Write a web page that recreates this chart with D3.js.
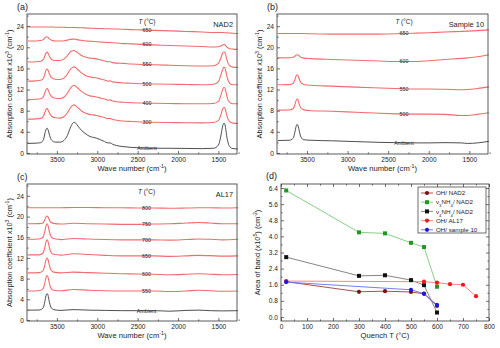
<!DOCTYPE html>
<html>
<head>
<meta charset="utf-8">
<script src="https://cdn.jsdelivr.net/npm/d3@7"></script>
<style>
  body { margin: 0; background: #fff; }
  text { font-family: "Liberation Sans", Arial, sans-serif; fill: #222; }
</style>
</head>
<body>
<div id="vis"></div>
<script>
/*
Data
*/

// (a) NAD2 spectra, common wave number grid
const waveA = [3860, 3760, 3700, 3665, 3645, 3630, 3620, 3608, 3590, 3565,
               3520, 3460, 3410, 3370, 3335, 3305, 3285, 3265, 3235, 3190,
               3140, 3090, 3050, 3010, 2960, 2910, 2870, 2840, 2810, 2760,
               2680, 2580, 2450, 2300, 2100, 1900, 1700, 1560, 1500, 1470,
               1450, 1435, 1425, 1412, 1398, 1380, 1355, 1320, 1260];
const nad2Ambient = [1.8, 1.85, 1.95, 2.6, 3.9, 4.6, 4.7, 4.3, 3.3, 2.4,
                     2.05, 2.05, 2.4, 3.3, 4.7, 5.6, 5.8, 5.6, 5.0, 4.2,
                     3.6, 3.1, 2.95, 2.8, 2.5, 2.15, 1.9, 1.9, 1.65, 1.4,
                     1.2, 1.05, 0.95, 0.9, 0.88, 0.85, 0.82, 0.88, 1.5, 3.2,
                     4.9, 5.6, 5.6, 4.8, 3.3, 1.9, 1.1, 0.82, 0.75];
const nad2T300 = [6.4, 6.45, 6.55, 7.0, 7.85, 8.3, 8.4, 8.1, 7.5, 6.95,
                  6.65, 6.6, 6.9, 7.6, 8.5, 9.0, 9.1, 8.9, 8.5, 7.9,
                  7.5, 7.25, 7.2, 7.1, 6.9, 6.7, 6.5, 6.55, 6.35, 6.2,
                  6.05, 5.95, 5.85, 5.8, 5.75, 5.72, 5.7, 5.75, 6.15, 7.2,
                  8.2, 8.6, 8.6, 8.1, 7.2, 6.35, 5.85, 5.65, 5.6];
const nad2T400 = [10.1, 10.15, 10.25, 10.7, 11.55, 12.1, 12.2, 11.9, 11.25, 10.65,
                  10.35, 10.3, 10.6, 11.3, 12.2, 12.7, 12.8, 12.6, 12.2, 11.6,
                  11.1, 10.8, 10.7, 10.6, 10.4, 10.2, 10.0, 10.05, 9.85, 9.7,
                  9.6, 9.5, 9.45, 9.4, 9.35, 9.3, 9.3, 9.35, 9.75, 10.9,
                  11.9, 12.4, 12.4, 11.9, 10.9, 10.0, 9.5, 9.3, 9.3];
const nad2T500 = [13.6, 13.65, 13.75, 14.2, 15.15, 15.8, 15.9, 15.6, 14.85, 14.25,
                  13.95, 13.9, 14.2, 14.9, 15.8, 16.2, 16.3, 16.1, 15.7, 15.1,
                  14.6, 14.4, 14.3, 14.2, 14.0, 13.8, 13.6, 13.65, 13.45, 13.35,
                  13.25, 13.2, 13.1, 13.05, 13.0, 12.95, 12.9, 13.0, 13.5, 14.7,
                  15.7, 16.2, 16.2, 15.7, 14.7, 13.75, 13.1, 12.9, 12.9];
const nad2T550 = [17.2, 17.25, 17.35, 17.75, 18.55, 19.0, 19.1, 18.85, 18.2, 17.7,
                  17.5, 17.5, 17.8, 18.4, 19.1, 19.35, 19.4, 19.2, 18.9, 18.4,
                  18.1, 17.95, 17.9, 17.8, 17.6, 17.4, 17.25, 17.25, 17.1, 17.0,
                  16.95, 16.85, 16.75, 16.7, 16.6, 16.5, 16.45, 16.5, 16.95, 17.95,
                  18.8, 19.1, 19.1, 18.7, 17.8, 16.95, 16.45, 16.25, 16.2];
const nad2T600 = [21.2, 21.2, 21.28, 21.5, 21.85, 22.0, 22.0, 21.85, 21.55, 21.35,
                  21.2, 21.2, 21.25, 21.35, 21.5, 21.55, 21.55, 21.5, 21.4, 21.3,
                  21.2, 21.15, 21.1, 21.05, 21.0, 20.95, 20.9, 20.9, 20.85, 20.8,
                  20.7, 20.65, 20.55, 20.45, 20.35, 20.25, 20.15, 20.05, 20.1, 20.25,
                  20.42, 20.5, 20.5, 20.35, 20.1, 19.85, 19.72, 19.65, 19.6];
const nad2T650 = [23.9, 23.85, 23.85, 23.85, 23.85, 23.85, 23.85, 23.85, 23.85, 23.85,
                  23.8, 23.8, 23.8, 23.75, 23.75, 23.75, 23.75, 23.75, 23.7, 23.7,
                  23.65, 23.6, 23.6, 23.55, 23.55, 23.5, 23.5, 23.5, 23.45, 23.45,
                  23.4, 23.35, 23.3, 23.2, 23.1, 23.0, 22.9, 22.8, 22.8, 22.8,
                  22.8, 22.8, 22.75, 22.75, 22.75, 22.7, 22.7, 22.65, 22.6];

// (b) Sample 10 spectra
const waveB = [3860, 3720, 3670, 3650, 3635, 3622, 3610, 3595, 3575, 3540,
               3450, 3200, 2900, 2600, 2400, 2200, 2000, 1800, 1600, 1520,
               1400, 1260];
const s10Ambient = [2.35, 2.4, 2.8, 3.9, 5.0, 5.4, 5.1, 4.1, 3.0, 2.5,
                    2.4, 2.3, 2.15, 2.0, 1.95, 1.9, 1.9, 1.95, 1.9, 1.8,
                    1.9, 2.2];
const s10T500 = [8.1, 8.12, 8.4, 9.1, 9.9, 10.2, 10.0, 9.2, 8.5, 8.15,
                 8.0, 7.9, 7.7, 7.5, 7.4, 7.35, 7.35, 7.3, 7.1, 7.1,
                 7.3, 7.6];
const s10T550 = [12.9, 12.93, 13.2, 13.85, 14.55, 14.8, 14.6, 13.95, 13.3, 12.95,
                 12.8, 12.65, 12.45, 12.3, 12.2, 12.1, 12.1, 12.05, 11.95, 12.0,
                 12.2, 12.5];
const s10T600 = [18.0, 18.01, 18.1, 18.3, 18.5, 18.6, 18.55, 18.35, 18.12, 17.95,
                 17.85, 17.7, 17.55, 17.4, 17.3, 17.3, 17.45, 17.7, 17.9, 18.0,
                 18.2, 18.6];
const s10T650 = [22.6, 22.6, 22.6, 22.6, 22.6, 22.6, 22.6, 22.6, 22.6, 22.6,
                 22.55, 22.5, 22.5, 22.5, 22.55, 22.65, 22.75, 22.9, 23.0, 23.05,
                 23.15, 23.3];

// (c) AL17 spectra
const waveC = [3860, 3720, 3670, 3650, 3635, 3622, 3610, 3595, 3575, 3540,
               3450, 3300, 3100, 2900, 2700, 2500, 2300, 2100, 1900, 1750,
               1600, 1450, 1260];
const al17Ambient = [1.9, 1.92, 2.35, 3.5, 4.7, 5.1, 4.8, 3.65, 2.5, 2.0,
                     1.85, 2.0, 1.9, 1.85, 1.8, 1.8, 1.8, 1.7, 1.85, 1.9,
                     1.8, 1.75, 1.8];
const al17T550 = [5.6, 5.65, 6.05, 7.1, 8.2, 8.6, 8.3, 7.25, 6.2, 5.75,
                  5.65, 5.9, 5.75, 5.65, 5.6, 5.6, 5.6, 5.5, 5.6, 5.75,
                  5.65, 5.55, 5.6];
const al17T600 = [9.1, 9.15, 9.55, 10.55, 11.6, 12.0, 11.7, 10.7, 9.7, 9.25,
                  9.1, 9.25, 9.15, 9.05, 8.95, 8.9, 8.85, 8.75, 8.85, 8.95,
                  8.85, 8.75, 8.8];
const al17T650 = [12.6, 12.6, 13.0, 14.0, 15.1, 15.5, 15.2, 14.2, 13.15, 12.7,
                  12.55, 12.8, 12.65, 12.5, 12.4, 12.4, 12.4, 12.3, 12.4, 12.5,
                  12.45, 12.35, 12.4];
const al17T700 = [15.6, 15.65, 16.05, 17.1, 18.2, 18.6, 18.3, 17.25, 16.2, 15.75,
                  15.55, 15.75, 15.65, 15.55, 15.5, 15.5, 15.5, 15.45, 15.55, 15.65,
                  15.6, 15.5, 15.6];
const al17T750 = [18.6, 18.63, 18.82, 19.35, 19.9, 20.1, 19.95, 19.42, 18.9, 18.68,
                  18.55, 18.7, 18.6, 18.55, 18.5, 18.5, 18.55, 18.6, 18.75, 18.85,
                  18.75, 18.6, 18.6];
const al17T800 = [21.7, 21.7, 21.7, 21.7, 21.7, 21.7, 21.7, 21.7, 21.7, 21.7,
                  21.7, 21.75, 21.75, 21.7, 21.7, 21.65, 21.65, 21.6, 21.65, 21.7,
                  21.7, 21.65, 21.7];

// (d) band areas vs quench temperature
const quenchNAD2 = [20, 300, 400, 500, 550, 600];
const ohNAD2 = [1.75, 1.25, 1.28, 1.24, 1.15, 0.55];
const v3NAD2 = [6.28, 4.2, 4.15, 3.68, 3.47, 1.5];
const v4NAD2 = [2.97, 2.04, 2.07, 1.83, 1.58, 0.22];
const quenchAL17 = [20, 550, 600, 650, 700, 750];
const ohAL17 = [1.78, 1.75, 1.7, 1.63, 1.6, 1.03];
const quenchS10 = [20, 500, 550, 600];
const ohS10 = [1.73, 1.35, 1.16, 0.6];

// tick values
const waveTicks = [3500, 3000, 2500, 2000, 1500];
const waveMinor = [3750, 3250, 2750, 2250, 1750, 1250];
const absTicks = [0, 4, 8, 12, 16, 20, 24];
const absMinor = [2, 6, 10, 14, 18, 22, 26];
const quenchTicks = [0, 100, 200, 300, 400, 500, 600, 700, 800];
const quenchMinor = [50, 150, 250, 350, 450, 550, 650, 750];
const areaTicks = [0, 0.8, 1.6, 2.4, 3.2, 4.0, 4.8, 5.6, 6.4];
const areaMinor = [0.4, 1.2, 2.0, 2.8, 3.6, 4.4, 5.2, 6.0];

/*
Layout
*/

const W = 500, H = 348;
const RED = "#f46b6b", GREY = "#3a3a3a";

const svg = d3.select("#vis").append("svg")
    .attr("width", W)
    .attr("height", H);

// writes text made of plain / superscript / subscript parts
function rich(sel, parts) {
    parts.forEach(([s, kind]) => {
        const t = sel.append("tspan").text(s);
        if (kind === "sup") t.attr("baseline-shift", "super").attr("font-size", "70%");
        if (kind === "sub") t.attr("baseline-shift", "sub").attr("font-size", "70%");
    });
    return sel;
}

function drawAxes(g, f, x, y, xt, xm, yt, ym, xfmt, yfmt, mirror) {
    const ym2 = ym.filter(v => v <= y.domain()[1]);
    g.append("g").attr("transform", `translate(0,${f.y1})`)
        .call(d3.axisBottom(x).tickValues(xt).tickSizeInner(-3).tickSizeOuter(0).tickPadding(3).tickFormat(xfmt));
    g.append("g").attr("transform", `translate(0,${f.y1})`)
        .call(d3.axisBottom(x).tickValues(xm).tickSizeInner(-1.6).tickSizeOuter(0).tickFormat(""));
    g.append("g").attr("transform", `translate(${f.x0},0)`)
        .call(d3.axisLeft(y).tickValues(yt).tickSizeInner(-3).tickSizeOuter(0).tickPadding(3).tickFormat(yfmt));
    g.append("g").attr("transform", `translate(${f.x0},0)`)
        .call(d3.axisLeft(y).tickValues(ym2).tickSizeInner(-1.6).tickSizeOuter(0).tickFormat(""));
    if (mirror) {
        g.append("g").attr("transform", `translate(0,${f.y0})`)
            .call(d3.axisTop(x).tickValues(xt).tickSizeInner(-3).tickSizeOuter(0).tickFormat(""));
        g.append("g").attr("transform", `translate(0,${f.y0})`)
            .call(d3.axisTop(x).tickValues(xm).tickSizeInner(-1.6).tickSizeOuter(0).tickFormat(""));
        g.append("g").attr("transform", `translate(${f.x1},0)`)
            .call(d3.axisRight(y).tickValues(yt).tickSizeInner(-3).tickSizeOuter(0).tickFormat(""));
        g.append("g").attr("transform", `translate(${f.x1},0)`)
            .call(d3.axisRight(y).tickValues(ym2).tickSizeInner(-1.6).tickSizeOuter(0).tickFormat(""));
    }
    g.selectAll(".domain").remove();
    g.selectAll(".tick line").attr("stroke", "#333").attr("stroke-width", 0.7);
    g.selectAll(".tick text").attr("font-size", 6.6).attr("fill", "#222")
        .style("font-family", "'Liberation Sans', Arial, sans-serif");
    g.append("rect")
        .attr("x", f.x0).attr("y", f.y0)
        .attr("width", f.x1 - f.x0).attr("height", f.y1 - f.y0)
        .attr("fill", "none").attr("stroke", "#333").attr("stroke-width", 0.8);
}

function spectraPanel(f, letter, sample, grid, series, labelWn) {
    const x = d3.scaleLinear().domain([3870, 1270]).range([f.x0, f.x1]);
    const y = d3.scaleLinear().domain([-0.2, 26.3]).range([f.y1, f.y0]);
    const g = svg.append("g");

    const line = d3.line()
        .x(d => x(d[0]))
        .y(d => y(d[1]))
        .curve(d3.curveMonotoneX);

    series.forEach(s => {
        const pts = grid.map((w, i) => [w, s.values[i]]);
        g.append("path")
            .attr("d", line(pts))
            .attr("fill", "none")
            .attr("stroke", s.name === "Ambient" ? GREY : RED)
            .attr("stroke-width", s.name === "Ambient" ? 0.9 : 1.1);
        // label sits on the curve
        const i = grid.findIndex(w => w <= labelWn);
        const t = (grid[i - 1] - labelWn) / (grid[i - 1] - grid[i]);
        const v = s.values[i - 1] + t * (s.values[i] - s.values[i - 1]);
        g.append("text")
            .attr("x", x(labelWn))
            .attr("y", y(v))
            .attr("dy", "0.35em")
            .attr("text-anchor", "middle")
            .attr("font-size", 5.3)
            .attr("fill", "#333")
            .text(s.name);
    });

    const tl = g.append("text")
        .attr("x", x(labelWn))
        .attr("y", f.y0 + 10)
        .attr("text-anchor", "middle")
        .attr("font-size", 6.4);
    tl.append("tspan").attr("font-style", "italic").text("T");
    tl.append("tspan").text(" (°C)");

    g.append("text")
        .attr("x", f.x1 - 4)
        .attr("y", f.y0 + 13)
        .attr("text-anchor", "end")
        .attr("font-size", 7.4)
        .text(sample);

    drawAxes(g, f, x, y, waveTicks, waveMinor, absTicks, absMinor, d3.format("d"), d3.format("d"), false);

    rich(g.append("text")
        .attr("x", (f.x0 + f.x1) / 2)
        .attr("y", f.y1 + 17)
        .attr("text-anchor", "middle")
        .attr("font-size", 7.6), [["Wave number (cm", null], ["-1", "sup"], [")", null]]);

    rich(g.append("text")
        .attr("transform", `translate(${f.x0 - 15},${(f.y0 + f.y1) / 2}) rotate(-90)`)
        .attr("text-anchor", "middle")
        .attr("font-size", 7.4),
        [["Absorption coefficient x10", null], ["3", "sup"], [" (cm", null], ["-1", "sup"], [")", null]]);

    g.append("text")
        .attr("x", f.x0 - 10)
        .attr("y", f.y0 - 4)
        .attr("font-size", 9)
        .text(`(${letter})`);
}

/*
Panels (a) (b) (c)
*/

spectraPanel({x0: 27, x1: 237, y0: 14, y1: 154}, "a", "NAD2", waveA, [
    {name: "Ambient", values: nad2Ambient},
    {name: "300", values: nad2T300},
    {name: "400", values: nad2T400},
    {name: "500", values: nad2T500},
    {name: "550", values: nad2T550},
    {name: "600", values: nad2T600},
    {name: "650", values: nad2T650}
], 2385);

spectraPanel({x0: 277, x1: 488, y0: 14, y1: 154}, "b", "Sample 10", waveB, [
    {name: "Ambient", values: s10Ambient},
    {name: "500", values: s10T500},
    {name: "550", values: s10T550},
    {name: "600", values: s10T600},
    {name: "650", values: s10T650}
], 2305);

spectraPanel({x0: 27, x1: 237, y0: 184, y1: 321}, "c", "AL17", waveC, [
    {name: "Ambient", values: al17Ambient},
    {name: "550", values: al17T550},
    {name: "600", values: al17T600},
    {name: "650", values: al17T650},
    {name: "700", values: al17T700},
    {name: "750", values: al17T750},
    {name: "800", values: al17T800}
], 2390);

/*
Panel (d)
*/

const fd = {x0: 281, x1: 489, y0: 184, y1: 321};
const xd = d3.scaleLinear().domain([0, 800]).range([fd.x0, fd.x1]);
const yd = d3.scaleLinear().domain([-0.2, 6.6]).range([fd.y1, fd.y0]);
const gd = svg.append("g");

const areaSeries = [
    {label: [["OH/ NAD2", null]], xs: quenchNAD2, ys: ohNAD2, line: "#a33a3a", mark: "#7a1010", shape: "circle"},
    {label: [["ν", null], ["3", "sub"], ["NH", null], ["4", "sub"], ["/ NAD2", null]], xs: quenchNAD2, ys: v3NAD2, line: "#78c878", mark: "#1f9a1f", shape: "square"},
    {label: [["ν", null], ["4", "sub"], ["NH", null], ["4", "sub"], ["/ NAD2", null]], xs: quenchNAD2, ys: v4NAD2, line: "#777", mark: "#111", shape: "square"},
    {label: [["OH/ AL17", null]], xs: quenchAL17, ys: ohAL17, line: "#f77", mark: "#f01818", shape: "circle"},
    {label: [["OH/ sample 10", null]], xs: quenchS10, ys: ohS10, line: "#6c6cf5", mark: "#1818f0", shape: "circle"}
];

const lineD = d3.line().x(d => xd(d[0])).y(d => yd(d[1]));

function marker(sel, shape, cx, cy, color) {
    if (shape === "square") {
        sel.append("rect").attr("x", cx - 2).attr("y", cy - 2).attr("width", 4).attr("height", 4)
            .attr("fill", color);
    } else {
        sel.append("circle").attr("cx", cx).attr("cy", cy).attr("r", 2.1).attr("fill", color);
    }
}

areaSeries.forEach(s => {
    const pts = s.xs.map((v, i) => [v, s.ys[i]]);
    gd.append("path").attr("d", lineD(pts)).attr("fill", "none")
        .attr("stroke", s.line).attr("stroke-width", 0.9);
});
areaSeries.forEach(s => {
    s.xs.forEach((v, i) => marker(gd, s.shape, xd(v), yd(s.ys[i]), s.mark));
});

drawAxes(gd, fd, xd, yd, quenchTicks, quenchMinor, areaTicks, areaMinor, d3.format("d"), d3.format(".1f"), true);

// legend
const lg = gd.append("g");
lg.append("rect").attr("x", 418).attr("y", 187).attr("width", 68).attr("height", 46)
    .attr("fill", "#fff").attr("stroke", "#333").attr("stroke-width", 0.7);
areaSeries.forEach((s, i) => {
    const ly = 193 + i * 9.2;
    lg.append("line").attr("x1", 421).attr("x2", 433).attr("y1", ly).attr("y2", ly)
        .attr("stroke", s.line).attr("stroke-width", 0.9);
    marker(lg, s.shape, 427, ly, s.mark);
    rich(lg.append("text").attr("x", 436).attr("y", ly).attr("dy", "0.35em")
        .attr("font-size", 6.2), s.label);
});

gd.append("text")
    .attr("x", (fd.x0 + fd.x1) / 2).attr("y", fd.y1 + 17)
    .attr("text-anchor", "middle").attr("font-size", 7.6)
    .text("Quench T (°C)");

rich(gd.append("text")
    .attr("transform", `translate(${fd.x0 - 21},${(fd.y0 + fd.y1) / 2}) rotate(-90)`)
    .attr("text-anchor", "middle").attr("font-size", 7.4),
    [["Area of band (x10", null], ["5", "sup"], [") (cm", null], ["-2", "sup"], [")", null]]);

gd.append("text").attr("x", 266).attr("y", 179).attr("font-size", 9).text("(d)");
</script>
</body>
</html>
